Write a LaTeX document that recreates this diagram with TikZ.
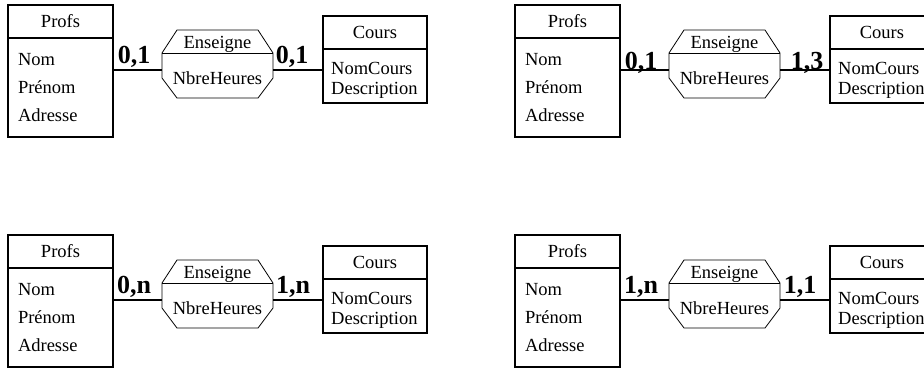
\documentclass[tikz,border=0pt]{standalone}
\usepackage{fontspec}
\setmainfont{Liberation Serif}
\usetikzlibrary{positioning,calc}

\begin{document}
\begin{tikzpicture}[
            x = 1pt, y = -1pt,
            every node/.style={font=\fontsize{18.5}{28}\selectfont},
            head/.style={draw, line width=1.1pt, inner sep=0pt, outer sep=0pt, minimum height=33pt},
            attr/.style={draw, line width=1.1pt, inner ysep=0pt, outer sep=0pt, align=left},
            rel/.style={minimum width=111pt, minimum height=68pt, inner sep=0pt, outer sep=0pt},
            thin line/.style={line width=.8pt},
            card/.style={font=\fontsize{26}{26}\selectfont\bfseries, inner sep=0pt, anchor=base},
            line/.style={line width=1.2pt},
            ]
    \useasboundingbox (0,0) rectangle (924,368);

    \foreach \px/\py/\lcard/\rcard/\ly/\rx/\n in {0/0/{0,1}/{0,1}/63/292/a, 507/0/{0,1}/{1,3}/69/300/b,
                                                  0/230/{0,n}/{1,n}/63/293/c, 507/230/{1,n}/{1,1}/63/293/d}{
    \begin{scope}[shift={(\px,\py)}]
        % Profs
        \node[head, minimum width=105pt] (profs\n) at (60.5, 21.5) {Profs};
        \node[attr, below=0pt of profs\n, minimum height=99pt, text width=85pt, inner xsep=10pt]
            (profsatt\n) {Nom\\Prénom\\Adresse};
        % Cours
        \node[head, minimum width=104pt] (cours\n) at (375, 32.5) {Cours};
        \node[attr, below=0pt of cours\n, minimum height=54pt, minimum width=104pt] (coursbox\n) {};
        \node[anchor=north west, inner sep=0pt, align=left, font=\fontsize{18.5}{20.5}\selectfont]
            (coursatt\n) at ($(coursbox\n.north west)+(8,13)$) {NomCours\\Description};
        % Enseigne
        \node[rel] (ens\n) at (217.5, 64) {};
        \draw[thin line] ($(ens\n.north west)+(15,0)$) -- ($(ens\n.north east)+(-15,0)$)
            -- ($(ens\n.north east)+(0,23)$) -- ($(ens\n.south east)+(0,-20)$)
            -- ($(ens\n.south east)+(-15,0)$) -- ($(ens\n.south west)+(15,0)$)
            -- ($(ens\n.south west)+(0,-20)$) -- ($(ens\n.north west)+(0,23)$) -- cycle;
        \draw[thin line] ($(ens\n.north west)+(0,23)$) -- ($(ens\n.north east)+(0,23)$);
        \node[anchor=base] (ensname\n) at (217.5, 48) {Enseigne};
        \node[anchor=base] (ensatt\n) at (217.5, 84) {NbreHeures};

        \coordinate (lnk\n) at (0, 70);
        \draw[line] (profsatt\n.east |- lnk\n) -- (ens\n.west |- lnk\n);
        \draw[line] (ens\n.east |- lnk\n) -- (coursbox\n.west |- lnk\n);

        \node[card] (cl\n) at (134, \ly) {\lcard};
        \node[card] (cr\n) at (\rx, \ly) {\rcard};
    \end{scope}
    }
\end{tikzpicture}
\end{document}
